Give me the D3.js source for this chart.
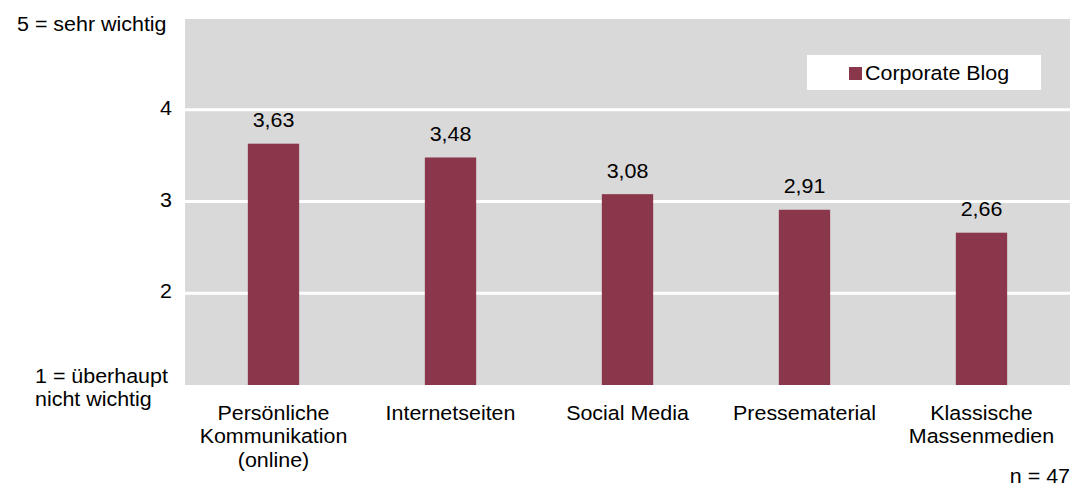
<!DOCTYPE html>
<html>
<head>
<meta charset="utf-8">
<script src="https://cdn.jsdelivr.net/npm/d3@7"></script>
<style>
  html, body { margin: 0; padding: 0; background: #fff; }
  svg { display: block; font-family: "Liberation Sans", Arial, sans-serif; }
</style>
</head>
<body>
<svg id="chart" width="1090" height="493"></svg>
<script>
// Categories (each label split into its drawn lines)
const categories = [
  ["Persönliche", "Kommunikation", "(online)"],
  ["Internetseiten"],
  ["Social Media"],
  ["Pressematerial"],
  ["Klassische", "Massenmedien"]
];
// Mean importance ratings, series "Corporate Blog"
const seriesName = "Corporate Blog";
const values = [3.63, 3.48, 3.08, 2.91, 2.66];
// Axis ticks shown as numbers
const tickValues = [2, 3, 4];
const topLabel = ["5 = sehr wichtig"];
const bottomLabel = ["1 = überhaupt", "nicht wichtig"];
const noteText = "n = 47";

const svg = d3.select("#chart");
const plot = { left: 185, right: 1070, top: 18, bottom: 385 };
const barColor = "#8b374b";
const fontSize = 19.5;
const stretch = 1.1;   // text is set slightly wide

// text helper: places a (possibly multi-line) label with a horizontal stretch
function label(parent, x, y, lines, anchor, lineGap) {
  const t = parent.append("text")
    .attr("transform", `translate(${x},${y}) scale(${stretch},1)`)
    .attr("text-anchor", anchor)
    .attr("font-size", fontSize)
    .attr("fill", "#000");
  lines.forEach((ln, i) => {
    t.append("tspan").attr("x", 0).attr("y", i * (lineGap || 0)).text(ln);
  });
  return t;
}

const x = d3.scaleBand()
  .domain(d3.range(categories.length))
  .range([plot.left, plot.right])
  .paddingInner(0.71)
  .paddingOuter(0.355);

const y = d3.scaleLinear().domain([1, 5]).range([plot.bottom, plot.top]);

// plot background
svg.append("rect")
  .attr("x", plot.left).attr("y", plot.top + 1)
  .attr("width", plot.right - plot.left).attr("height", plot.bottom - plot.top - 1)
  .attr("fill", "#d9d9d9");

// gridlines
svg.append("g").selectAll("line").data(tickValues).join("line")
  .attr("x1", plot.left).attr("x2", plot.right)
  .attr("y1", d => y(d)).attr("y2", d => y(d))
  .attr("stroke", "#ffffff").attr("stroke-width", 3);

// y tick labels
const yl = svg.append("g");
tickValues.forEach(v => label(yl, 172, y(v) + 5, [String(v)], "end"));
label(svg, 17, 31, topLabel, "start");
label(svg, 35, 383, bottomLabel, "start", 23.5);

// bars
svg.append("g").selectAll("rect").data(values).join("rect")
  .attr("x", (d, i) => x(i)).attr("width", x.bandwidth())
  .attr("y", d => y(d)).attr("height", d => y(1) - y(d))
  .attr("fill", barColor);

// value labels
const vl = svg.append("g");
values.forEach((v, i) => {
  label(vl, x(i) + x.bandwidth() / 2, y(v) - 16.5,
        [d3.format(".2f")(v).replace(".", ",")], "middle");
});

// category labels
const cl = svg.append("g");
categories.forEach((lines, i) => {
  label(cl, x(i) + x.bandwidth() / 2, 420, lines, "middle", 23.5);
});

// legend
const lg = svg.append("g");
lg.append("rect").attr("x", 807).attr("y", 55).attr("width", 234).attr("height", 35)
  .attr("fill", "#ffffff");
lg.append("rect").attr("x", 849).attr("y", 67).attr("width", 13).attr("height", 13)
  .attr("fill", barColor);
label(lg, 865, 80, [seriesName], "start");

// sample size note
label(svg, 1070, 483, [noteText], "end");
</script>
</body>
</html>
